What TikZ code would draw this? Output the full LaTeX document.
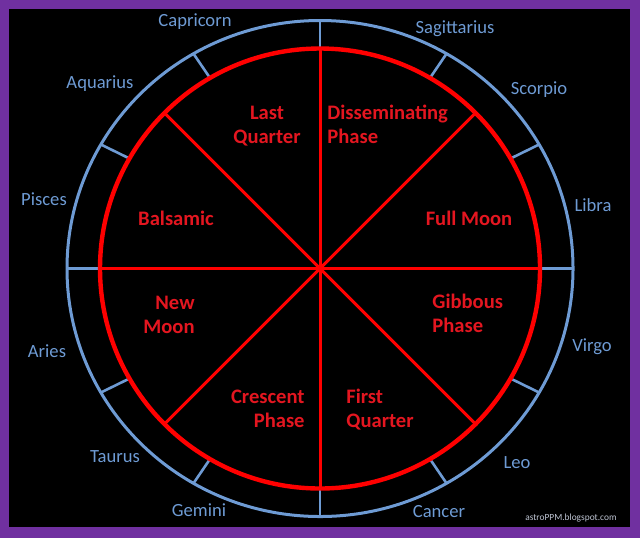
\documentclass[tikz,border=0pt]{standalone}
\usepackage{fontspec}
\setmainfont{Carlito}
\usepackage{tikz}
\usepackage{xcolor}
\definecolor{framepurple}{RGB}{112,48,160}
\definecolor{signblue}{RGB}{110,155,212}
\definecolor{phasered}{RGB}{228,22,32}
\definecolor{markgray}{RGB}{190,196,210}

\begin{document}
\begin{tikzpicture}[x=0.5pt,y=0.5pt,
  sign/.style={text=signblue,font=\fontsize{9.3}{11}\selectfont,inner sep=0pt,anchor=base},
  phase/.style={text=phasered,font=\bfseries\fontsize{10.3}{12}\selectfont,inner sep=0pt}]
  \fill[framepurple] (0,0) rectangle (640,538);
  \fill[black] (9,11) rectangle (630,529);
  \coordinate (c) at (320,269.5);
  \draw[signblue,line width=1.5pt] (c) ellipse (253 and 248);
  \foreach \a in {0,30,...,330} \draw[signblue,line width=1.3pt,shift={(c)}] (\a:220) -- (\a:253 and 248);
  \foreach \a in {0,45,...,315} \draw[red,line width=1.5pt,shift={(c)}] (0,0) -- (\a:220);
  \draw[red,line width=2.2pt] (c) circle (220);
  \node[sign] (capricorn) at (195,512) {Capricorn};
  \node[sign] (aquarius) at (100,450) {Aquarius};
  \node[sign] (pisces) at (44,333) {Pisces};
  \node[sign] (aries) at (47,181) {Aries};
  \node[sign] (taurus) at (115,76) {Taurus};
  \node[sign] (gemini) at (199,22) {Gemini};
  \node[sign] (cancer) at (439,21) {Cancer};
  \node[sign] (leo) at (517,70) {Leo};
  \node[sign] (virgo) at (592,187) {Virgo};
  \node[sign] (libra) at (593,327) {Libra};
  \node[sign] (scorpio) at (539,444) {Scorpio};
  \node[sign] (sagittarius) at (455,505) {Sagittarius};
  \node[phase,anchor=base,align=center] (lastq) at (267,395) {Last\\Quarter};
  \node[phase,anchor=base west,align=left] (dissem) at (327,395) {Disseminating\\Phase};
  \node[phase,anchor=base] (full) at (469,313) {Full Moon};
  \node[phase,anchor=base] (balsamic) at (176,313) {Balsamic};
  \node[phase,anchor=base east,align=right] (new) at (195,205) {New\\Moon};
  \node[phase,anchor=base west,align=left] (gibbous) at (432,206) {Gibbous\\Phase};
  \node[phase,anchor=base east,align=right] (crescent) at (305,111) {Crescent\\Phase};
  \node[phase,anchor=base west,align=left] (firstq) at (346,111) {First\\Quarter};
  \node[text=markgray,font=\fontsize{4.7}{6}\selectfont,inner sep=0pt,anchor=base east] (mark) at (617,18) {astroPPM.blogspot.com};
\end{tikzpicture}
\end{document}
